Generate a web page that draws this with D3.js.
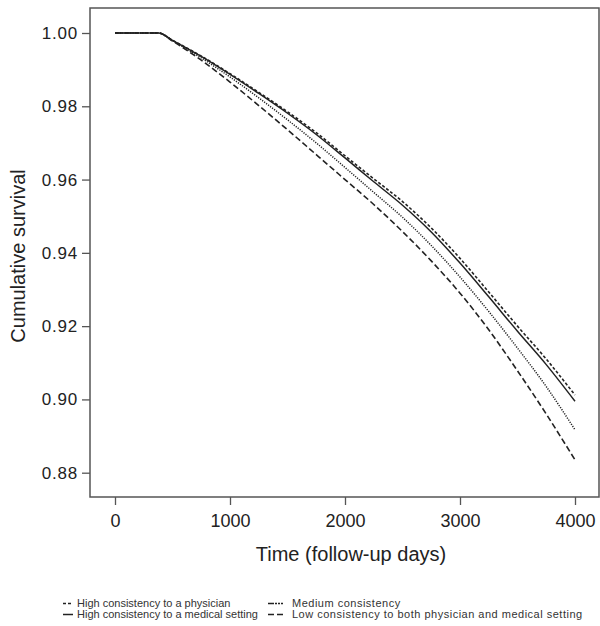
<!DOCTYPE html>
<html>
<head>
<meta charset="utf-8">
<script src="https://cdn.jsdelivr.net/npm/d3@7"></script>
<style>
  body { margin: 0; background: #fff; }
  text { font-family: "Liberation Sans", Arial, sans-serif; fill: #222; }
  .frame { fill: none; stroke: #555; stroke-width: 1.5; }
  .axis path { display: none; }
  .axis line { stroke: #555; stroke-width: 1.3; }
  .curve { fill: none; stroke: #222; }
</style>
</head>
<body>
<div id="chart"></div>
<script>
var days = [0, 380, 500, 750, 1000, 1250, 1500, 1750, 2000, 2250, 2500, 2750, 3000, 3250, 3500, 3750, 4000];

// cumulative survival per group
var physician = [1, 1, 0.9980, 0.9937, 0.9889, 0.9838, 0.9785, 0.9728, 0.9665, 0.9602, 0.9540, 0.9468, 0.9385, 0.9293, 0.9200, 0.9110, 0.9012];
var medicalSetting = [1, 1, 0.9980, 0.9936, 0.9887, 0.9835, 0.9781, 0.9723, 0.9659, 0.9594, 0.9530, 0.9457, 0.9372, 0.9280, 0.9186, 0.9095, 0.8995];
var medium = [1, 1, 0.9979, 0.9932, 0.9880, 0.9823, 0.9763, 0.9700, 0.9633, 0.9565, 0.9497, 0.9420, 0.9334, 0.9240, 0.9140, 0.9035, 0.8917];
var low = [1, 1, 0.9978, 0.9926, 0.9866, 0.9802, 0.9736, 0.9668, 0.9600, 0.9532, 0.9458, 0.9378, 0.9290, 0.9190, 0.9078, 0.8960, 0.8835];

var xTicks = [0, 1000, 2000, 3000, 4000];
var yTicks = [0.88, 0.90, 0.92, 0.94, 0.96, 0.98, 1.00];

var groups = [
  {name: "High consistency to a physician", values: physician, dash: "3,2", width: 1.6},
  {name: "High consistency to a medical setting", values: medicalSetting, dash: null, width: 1.5},
  {name: "Medium consistency", values: medium, dash: "1.2,1.3", width: 1.5},
  {name: "Low consistency to both physician and medical setting", values: low, dash: "6,3", width: 1.6}
];

var width = 600, height = 626;
var frame = {left: 90, top: 8, right: 599, bottom: 497};

var x = d3.scaleLinear().domain([0, 4000]).range([115, 575]);
var y = d3.scaleLinear().domain([0.88, 1]).range([472.7, 33]);

var svg = d3.select("#chart").append("svg")
    .attr("width", width)
    .attr("height", height);

svg.append("rect")
    .attr("class", "frame")
    .attr("x", frame.left)
    .attr("y", frame.top)
    .attr("width", frame.right - frame.left)
    .attr("height", frame.bottom - frame.top);

var yAxis = d3.axisLeft(y)
    .tickValues(yTicks)
    .tickFormat(d3.format(".2f"))
    .tickSize(8)
    .tickPadding(4);

svg.append("g")
    .attr("class", "axis")
    .attr("transform", "translate(" + frame.left + ",0)")
    .call(yAxis)
  .selectAll("text")
    .style("font-size", "17px")
    .style("letter-spacing", "0.8px");

var xAxis = d3.axisBottom(x)
    .tickValues(xTicks)
    .tickFormat(d3.format("d"))
    .tickSize(8)
    .tickPadding(9);

svg.append("g")
    .attr("class", "axis")
    .attr("transform", "translate(0," + frame.bottom + ")")
    .call(xAxis)
  .selectAll("text")
    .style("font-size", "18px");

svg.append("text")
    .attr("x", 351)
    .attr("y", 561)
    .attr("text-anchor", "middle")
    .style("font-size", "20px")
    .text("Time (follow-up days)");

svg.append("text")
    .attr("transform", "translate(25,256) rotate(-90)")
    .attr("text-anchor", "middle")
    .style("font-size", "20px")
    .text("Cumulative survival");

var line = d3.line()
    .x(function(d, i){ return x(days[i]); })
    .y(function(d){ return y(d); })
    .curve(d3.curveMonotoneX);

svg.selectAll(".curve")
    .data(groups)
  .enter().append("path")
    .attr("class", "curve")
    .attr("d", function(d){ return line(d.values); })
    .attr("stroke-width", function(d){ return d.width; })
    .attr("stroke-dasharray", function(d){ return d.dash; });

// legend, two columns
var legendPos = [
  {sx: 63, ty: 607},
  {sx: 63, ty: 618},
  {sx: 268, ty: 607},
  {sx: 268, ty: 618}
];

var legend = svg.selectAll(".legend")
    .data(groups)
  .enter().append("g")
    .attr("class", "legend")
    .attr("transform", function(d, i){ return "translate(" + legendPos[i].sx + "," + legendPos[i].ty + ")"; });

legend.append("line")
    .attr("x1", 0)
    .attr("x2", function(d, i){ return i < 2 ? 10 : 15; })
    .attr("y1", -3.5)
    .attr("y2", -3.5)
    .attr("stroke", "#222")
    .attr("stroke-width", 1.5)
    .attr("stroke-dasharray", function(d, i){ return ["3,2", null, "6,1,2,1,2,1", "6,3"][i]; });

legend.append("text")
    .attr("x", function(d, i){ return i < 2 ? 14 : 24; })
    .style("font-size", "11px")
    .style("letter-spacing", function(d, i){ return i < 2 ? "0px" : "0.5px"; })
    .style("fill", "#333")
    .text(function(d){ return d.name; });
</script>
</body>
</html>
